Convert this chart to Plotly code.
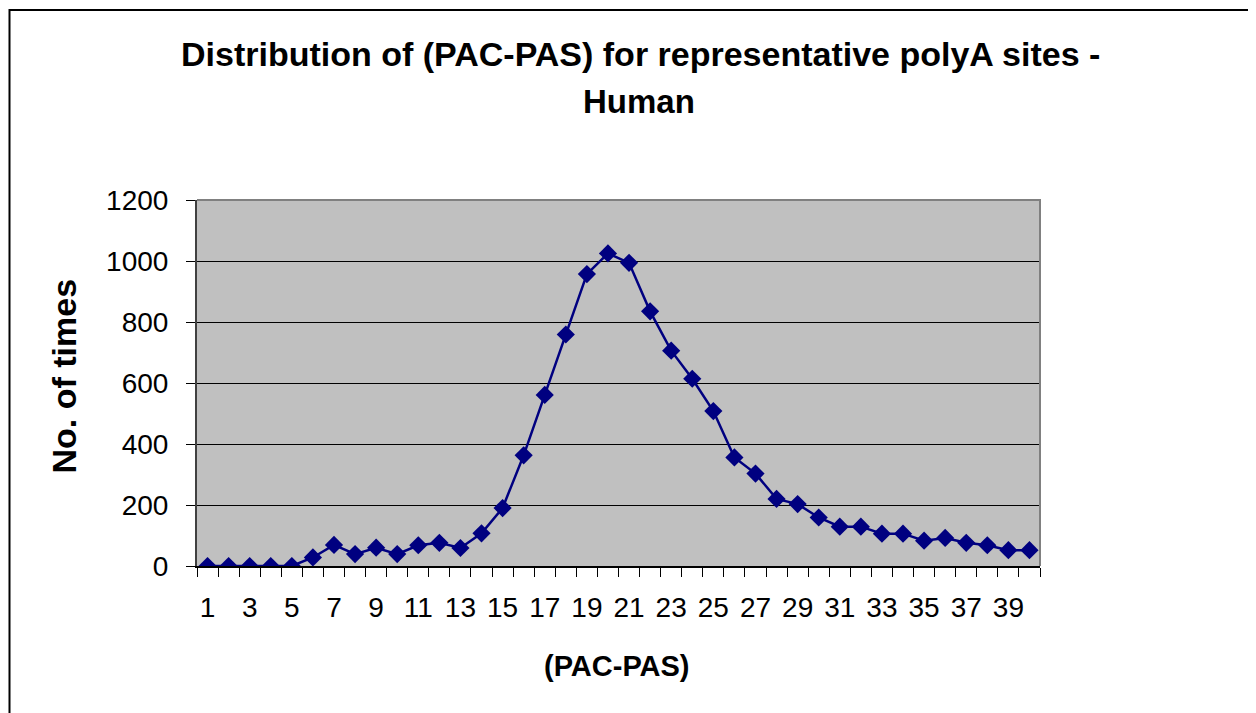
import plotly.graph_objects as go

# ---- data ----
pac_pas = [1, 2, 3, 4, 5, 6, 7, 8, 9, 10,
           11, 12, 13, 14, 15, 16, 17, 18, 19, 20,
           21, 22, 23, 24, 25, 26, 27, 28, 29, 30,
           31, 32, 33, 34, 35, 36, 37, 38, 39, 40]
no_of_times = [0, 0, 0, 0, 0, 28, 69, 39, 60, 39,
               68, 76, 59, 107, 190, 363, 561, 759, 957, 1025,
               994, 835, 706, 614, 508, 356, 303, 220, 203, 159,
               129, 129, 106, 106, 83, 92, 76, 68, 52, 52]
x_tick_vals = [1, 3, 5, 7, 9, 11, 13, 15, 17, 19, 21, 23, 25, 27, 29, 31, 33, 35, 37, 39]
x_tick_text = ["1", "3", "5", "7", "9", "11", "13", "15", "17", "19",
               "21", "23", "25", "27", "29", "31", "33", "35", "37", "39"]
x_boundaries = [v - 0.5 for v in pac_pas] + [pac_pas[-1] + 0.5]
y_tick_vals = [0, 200, 400, 600, 800, 1000, 1200]

title_line1 = "Distribution of (PAC-PAS) for representative polyA sites -"
title_line2 = "Human"
x_title = "(PAC-PAS)"
y_title = "No. of times"

FONT = "Liberation Sans, Arial, sans-serif"
NAVY = "#000080"

fig = go.Figure()
fig.add_trace(go.Scatter(
    x=pac_pas, y=no_of_times, mode="lines+markers",
    line=dict(color=NAVY, width=2.5),
    marker=dict(symbol="diamond", size=14, color=NAVY),
    showlegend=False, hoverinfo="x+y",
))

OFF = 8  # page body margin
W, H = 1256 - OFF, 713 - OFF
L, R, T, B = 197 - OFF, 1040 - OFF, 200 - OFF, 566 - OFF
pw, ph = R - L, B - T

def px(xp):
    return (xp - OFF - L) / pw

def py(yp):
    return (B - (yp - OFF)) / ph

fig.update_layout(
    width=W, height=H,
    margin=dict(l=L, r=W - R, t=T, b=H - B, pad=0),
    paper_bgcolor="white", plot_bgcolor="#C0C0C0",
    font=dict(family=FONT, color="black"),
    showlegend=False,
)

fig.update_xaxes(
    range=[0.5, 40.5], tickmode="array", tickvals=x_tick_vals, ticktext=x_tick_text,
    ticks="", showgrid=False, zeroline=False,
    showline=True, linecolor="black", linewidth=1.5,
    tickfont=dict(size=28, family=FONT, color="black"),
    ticklabelstandoff=16,
    minor=dict(tickmode="array", tickvals=x_boundaries, ticks="outside",
               ticklen=9, tickcolor="black", tickwidth=1, showgrid=False),
)
fig.update_yaxes(
    range=[0, 1200], tickmode="array", tickvals=y_tick_vals,
    ticks="outside", ticklen=9, tickcolor="black", tickwidth=1,
    showgrid=True, gridcolor="black", gridwidth=1, zeroline=False,
    showline=True, linecolor="#404040", linewidth=2,
    tickfont=dict(size=28, family=FONT, color="black"),
    ticklabelstandoff=12,
)

# plot area top/right border
fig.add_shape(type="path", xref="paper", yref="paper",
              path="M 0,1 L 1,1 L 1,0", line=dict(color="#808080", width=2))
# outer chart border
fig.add_shape(type="rect", xref="paper", yref="paper",
              x0=px(9.5), y0=py(10), x1=px(1300), y1=py(760),
              line=dict(color="black", width=2), layer="below")

fig.add_annotation(text=f"<b>{title_line1}</b>", xref="paper", yref="paper",
                   x=px(640), y=py(54), xanchor="center", yanchor="middle",
                   showarrow=False, font=dict(size=34, family=FONT, color="black"))
fig.add_annotation(text=f"<b>{title_line2}</b>", xref="paper", yref="paper",
                   x=px(639), y=py(102), xanchor="center", yanchor="middle",
                   showarrow=False, font=dict(size=33, family=FONT, color="black"))
fig.add_annotation(text=f"<b>{x_title}</b>", xref="paper", yref="paper",
                   x=px(617), y=py(666), xanchor="center", yanchor="middle",
                   showarrow=False, font=dict(size=29, family=FONT, color="black"))
fig.add_annotation(text=f"<b>{y_title}</b>", xref="paper", yref="paper",
                   x=px(63.5), y=py(376), xanchor="center", yanchor="middle",
                   textangle=-90, showarrow=False,
                   font=dict(size=34, family=FONT, color="black"))

fig.write_html("out.html")
